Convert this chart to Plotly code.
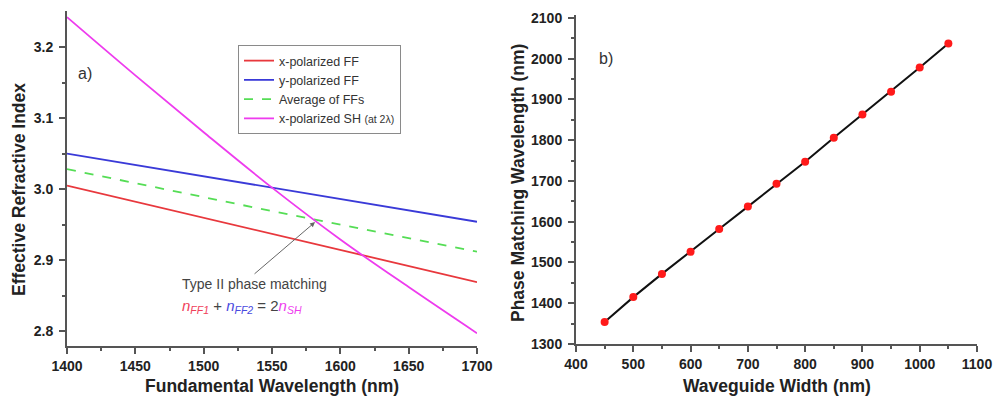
import plotly.graph_objects as go

# ---- data: panel a) ----
wl_lin = [1400, 1550, 1700]
n_x_ff = [3.005, 2.937, 2.869]
n_y_ff = [3.050, 3.002, 2.954]
n_avg = [3.028, 2.969, 2.912]
wl_sh = [1400, 1450, 1500, 1550, 1600, 1650, 1700]
n_x_sh = [3.242, 3.160, 3.080, 3.002, 2.929, 2.862, 2.797]
a_xticks = [1400, 1450, 1500, 1550, 1600, 1650, 1700]
a_yticks = [2.8, 2.9, 3.0, 3.1, 3.2]

# ---- data: panel b) ----
width_nm = [450, 500, 550, 600, 650, 700, 750, 800, 850, 900, 950, 1000, 1050]
pm_wl = [1354, 1415, 1472, 1526, 1582, 1637, 1693, 1747, 1806, 1863, 1919, 1978, 2037]
b_xticks = [400, 500, 600, 700, 800, 900, 1000, 1100]
b_yticks = [1300, 1400, 1500, 1600, 1700, 1800, 1900, 2000, 2100]

W, H = 995, 404
FONT = "Arial, Liberation Sans, sans-serif"
AX = "#555555"
TXT = "#222222"

def px_x(p):
    return p / W

def px_y(p):
    return 1 - p / H

def bold(vals, fmt="{}"):
    return ["<b>" + fmt.format(v) + "</b>" for v in vals]

fig = go.Figure()
fig.add_trace(go.Scatter(x=wl_lin, y=n_x_ff, mode="lines", name="x-polarized FF",
                         line=dict(color="#e8383d", width=1.8), xaxis="x", yaxis="y"))
fig.add_trace(go.Scatter(x=wl_lin, y=n_y_ff, mode="lines", name="y-polarized FF",
                         line=dict(color="#3a3ad8", width=1.8), xaxis="x", yaxis="y"))
fig.add_trace(go.Scatter(x=wl_lin, y=n_avg, mode="lines", name="Average of FFs",
                         line=dict(color="#55dd55", width=1.8, dash="dash"), xaxis="x", yaxis="y"))
fig.add_trace(go.Scatter(x=wl_sh, y=n_x_sh, mode="lines",
                         name="x-polarized SH <span style='font-size:10.5px'>(at 2λ)</span>",
                         line=dict(color="#ee3cee", width=1.8, shape="spline"), xaxis="x", yaxis="y"))
fig.add_trace(go.Scatter(x=width_nm, y=pm_wl, mode="lines+markers", showlegend=False,
                         line=dict(color="#111111", width=2),
                         marker=dict(color="#ff1a1a", size=8),
                         xaxis="x2", yaxis="y2"))

tickfont = dict(family=FONT, size=14, color=TXT)
common = dict(showline=True, linecolor=AX, linewidth=2, ticks="outside", ticklen=6,
              tickwidth=1.5, tickcolor=AX, showgrid=False, zeroline=False,
              tickfont=tickfont, mirror=False, automargin=False, tickmode="array")

fig.update_layout(
    template="none",
    width=W, height=H, margin=dict(l=0, r=0, t=0, b=0, pad=0),
    paper_bgcolor="white", plot_bgcolor="white",
    font=dict(family=FONT),
    xaxis=dict(domain=[px_x(67), px_x(477)], range=[1400, 1700], anchor="y",
               tickvals=a_xticks, ticktext=bold(a_xticks), ticklabelstandoff=0,
               minor=dict(ticks="outside", ticklen=3, tickvals=[1425, 1475, 1525, 1575, 1625, 1675], tickcolor=AX), **common),
    yaxis=dict(domain=[px_y(345.7), px_y(11)], range=[2.7795, 3.2507],
               tickvals=a_yticks, ticktext=bold(a_yticks, "{:.1f}"), anchor="x", ticklabelstandoff=3,
               minor=dict(ticks="outside", ticklen=3, tickvals=[2.85, 2.95, 3.05, 3.15], tickcolor=AX), **common),
    xaxis2=dict(domain=[px_x(576), px_x(977)], range=[400, 1100], anchor="y2",
                tickvals=b_xticks, ticktext=bold(b_xticks), ticklabelstandoff=0,
                minor=dict(ticks="outside", ticklen=3, tickvals=[450, 550, 650, 750, 850, 950, 1050], tickcolor=AX), **common),
    yaxis2=dict(domain=[px_y(344), px_y(15)], range=[1300, 2107],
                tickvals=b_yticks, ticktext=bold(b_yticks), anchor="x2", ticklabelstandoff=3,
                minor=dict(ticks="outside", ticklen=3, tickvals=[1350, 1450, 1550, 1650, 1750, 1850, 1950, 2050], tickcolor=AX), **common),
    legend=dict(x=px_x(238), y=px_y(45), xanchor="left", yanchor="top",
                bgcolor="white", bordercolor="#8a8a8a", borderwidth=1,
                font=dict(family=FONT, size=12.5, color="#333333"),
                tracegroupgap=0, itemwidth=30),
    showlegend=True,
)

def label(text, x, y, size=17.5, color=TXT, angle=0):
    return dict(text=text, x=px_x(x), y=px_y(y), xref="paper", yref="paper",
                xanchor="center", yanchor="middle", textangle=angle, showarrow=False,
                font=dict(family=FONT, size=size, color=color))

ann = []
ann.append(label("<b>Effective Refractive Index</b>", 19, 190, angle=-90))
ann.append(label("<b>Fundamental Wavelength (nm)</b>", 272, 386))
ann.append(label("<b>Phase Matching Wavelength (nm)</b>", 518, 183, angle=-90))
ann.append(label("<b>Waveguide Width (nm)</b>", 777, 386))
ann.append(label("a)", 85, 74, size=16, color="#333333"))
ann.append(label("b)", 606, 58, size=16, color="#333333"))
# phase matching arrow
ann.append(dict(x=1581.5, y=2.9535, xref="x", yref="y", ax=-62, ay=53, text="", showarrow=True,
                arrowhead=2, arrowsize=1, arrowwidth=1, arrowcolor="#666666"))
ann.append(dict(text="Type II phase matching", x=px_x(180), y=px_y(284), xref="paper", yref="paper",
                xanchor="left", yanchor="middle", showarrow=False,
                font=dict(family=FONT, size=14, color="#444444")))
formula = ("<i><span style='color:#f0405a'>n<sub>FF1</sub></span></i>"
           "<span style='color:#444444'> + </span>"
           "<i><span style='color:#4a4ae0'>n<sub>FF2</sub></span></i>"
           "<span style='color:#444444'> = 2</span>"
           "<i><span style='color:#ee3cee'>n<sub>SH</sub></span></i>")
ann.append(dict(text=formula, x=px_x(180), y=px_y(306), xref="paper", yref="paper",
                xanchor="left", yanchor="middle", showarrow=False,
                font=dict(family=FONT, size=15, color="#444444")))
fig.update_layout(annotations=ann)

fig.write_html("out.html")
